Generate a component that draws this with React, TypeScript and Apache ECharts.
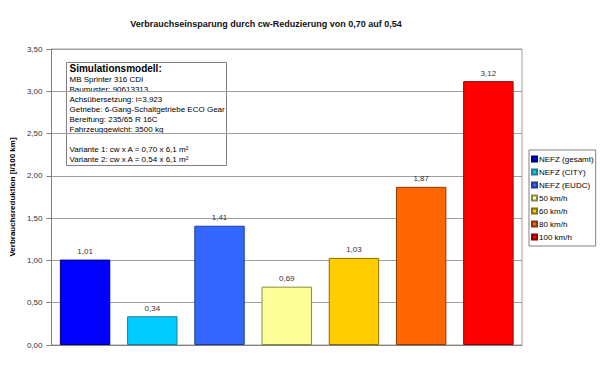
import React, { useEffect, useRef } from "react";
import * as echarts from "echarts";

const categories = [
  "NEFZ (gesamt)",
  "NEFZ (CITY)",
  "NEFZ (EUDC)",
  "50 km/h",
  "60 km/h",
  "80 km/h",
  "100 km/h",
];
const values = [1.01, 0.34, 1.41, 0.69, 1.03, 1.87, 3.12];
const colors = ["#0000FF", "#00CCFF", "#3366FF", "#FFFF99", "#FFCC00", "#FF6600", "#FF0000"];
const borderColors = ["#000080", "#1a7f99", "#1f3d99", "#8a8a40", "#8a6e00", "#8a3a00", "#8a0000"];
const infoTitle = "Simulationsmodell:";
const infoLines = [
  "MB Sprinter 316 CDI",
  "Baumuster: 90613313",
  "Achsübersetzung: i=3,923",
  "Getriebe: 6-Gang-Schaltgetriebe ECO Gear",
  "Bereifung: 235/65 R 16C",
  "Fahrzeuggewicht: 3500 kg",
  "",
  "Variante 1: cw x A = 0,70 x 6,1 m²",
  "Variante 2: cw x A = 0,54 x 6,1 m²",
];
const titleText = "Verbrauchseinsparung durch cw-Reduzierung von 0,70 auf 0,54";
const yAxisName = "Verbrauchsreduktion [l/100 km]";

const FONT = "Liberation Sans, Arial, sans-serif";
const fmt = (v: number) => v.toFixed(2).replace(".", ",");

export default function App() {
  const ref = useRef<HTMLDivElement>(null);
  useEffect(() => {
    if (!ref.current) return;
    const chart = echarts.init(ref.current, undefined, { renderer: "svg" });
    const series = categories.map((name, i) => ({
      type: "bar",
      name,
      stack: "s",
      barCategoryGap: "25%",
      data: values.map((v, j) => (j === i ? v : "-")),
      itemStyle: { color: colors[i], borderColor: borderColors[i], borderWidth: 1 },
      label: {
        show: true,
        position: "top",
        distance: 4,
        formatter: (p: any) => fmt(p.value),
        fontFamily: FONT,
        fontSize: 8,
        color: "#333",
      },
    }));
    chart.setOption({
      animation: false,
      backgroundColor: "#fff",
      textStyle: { fontFamily: FONT },
      title: {
        text: titleText,
        left: 261,
        top: 14,
        textAlign: "center",
        textStyle: { fontFamily: FONT, fontSize: 9, fontWeight: "bold", color: "#111" },
      },
      grid: {
        left: 47,
        right: 78,
        top: 49,
        bottom: 28,
        show: true,
        borderColor: "#a0a0a0",
        borderWidth: 1,
        backgroundColor: "transparent",
      },
      legend: {
        orient: "vertical",
        left: 529,
        top: 150,
        data: categories,
        icon: "rect",
        itemWidth: 5,
        itemHeight: 5,
        itemGap: 5,
        padding: [5, 2, 5, 2],
        borderColor: "#808080",
        borderWidth: 1,
        backgroundColor: "#fff",
        selectedMode: false,
        textStyle: { fontFamily: FONT, fontSize: 8, color: "#000", padding: [0, 0, 0, -3] },
      },
      xAxis: {
        type: "category",
        data: categories,
        axisLabel: { show: false },
        axisTick: { show: false },
        axisLine: { lineStyle: { color: "#808080" } },
      },
      yAxis: {
        type: "value",
        min: 0,
        max: 3.5,
        interval: 0.5,
        name: yAxisName,
        nameLocation: "middle",
        nameGap: 32,
        nameRotate: 90,
        nameTextStyle: { fontFamily: FONT, fontSize: 8, fontWeight: "bold", color: "#000" },
        axisLine: { show: true, lineStyle: { color: "#808080" } },
        axisTick: { show: true, length: 5, lineStyle: { color: "#808080" } },
        axisLabel: {
          formatter: (v: number) => fmt(v),
          fontFamily: FONT,
          fontSize: 8,
          color: "#333",
          margin: 9,
        },
        splitLine: { lineStyle: { color: "#a0a0a0" } },
      },
      graphic: [
        {
          type: "group",
          left: 66,
          top: 62,
          children: [
            {
              type: "rect",
              shape: { x: 0, y: 0, width: 160, height: 103 },
              style: { fill: "#fff", stroke: "#808080", lineWidth: 1 },
            },
            {
              type: "text",
              x: 3,
              y: 1,
              style: {
                text: infoTitle,
                fontFamily: FONT,
                fontSize: 10,
                fontWeight: "bold",
                fill: "#000",
              },
            },
            {
              type: "text",
              x: 3,
              y: 12,
              style: {
                text: infoLines.join("\n"),
                fontFamily: FONT,
                fontSize: 8,
                lineHeight: 10,
                fill: "#000",
              },
            },
          ],
        },
      ],
      series,
    });
    return () => chart.dispose();
  }, []);
  return (
    <div
      ref={ref}
      style={{ position: "fixed", left: 0, top: 0, width: 600, height: 373 }}
    />
  );
}
